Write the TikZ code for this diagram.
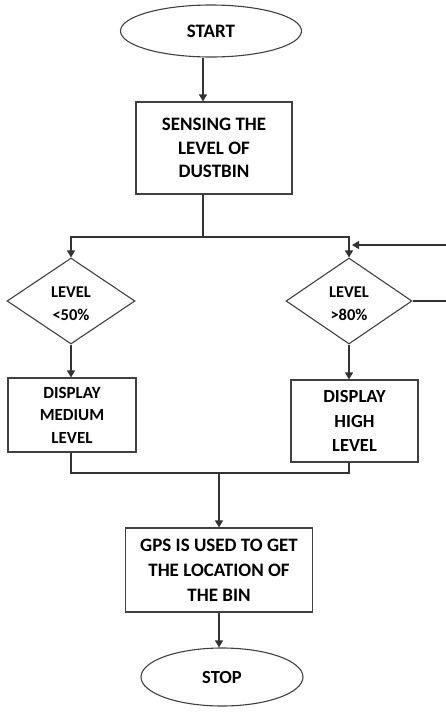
\documentclass[tikz,border=0pt]{standalone}
\usepackage{fontspec}
\setmainfont{Carlito}
\usetikzlibrary{shapes.geometric,arrows.meta}

\tikzset{
  shapeline/.style={draw=black!75, line width=1.1pt},
  procbox/.style={shapeline, rectangle, inner sep=0pt, align=center},
  termnode/.style={shapeline, ellipse, inner sep=0pt},
  decision/.style={shapeline, diamond, inner sep=0pt, align=center,
    font=\fontsize{16.5}{23}\selectfont\bfseries},
  link/.style={draw=black!80, line width=1.1pt},
  arr/.style={link, -{Triangle[length=7pt,width=8pt]}},
  bigtxt/.style={font=\fontsize{19}{23.5}\selectfont\bfseries}
}
% two-line text set a little below the middle of a decision
\newcommand{\lowtext}[2]{\raisebox{-8pt}[0pt][0pt]{\begin{tabular}{@{}c@{}}#1\\#2\end{tabular}}}

\begin{document}
\begin{tikzpicture}[x=1pt,y=-1pt]
\useasboundingbox (0,0) rectangle (446,713);

% terminals, process boxes and decisions
\node[termnode, minimum width=181, minimum height=52, bigtxt] (start) at (211,31) {START};
\node[procbox, minimum width=156, minimum height=92, bigtxt] (sensing) at (214,148)
  {SENSING THE\\LEVEL OF\\DUSTBIN};
\node[decision, minimum width=128, minimum height=86] (lvl1) at (71,301) {\lowtext{LEVEL}{<50\%}};
\node[decision, minimum width=126, minimum height=86] (lvl2) at (349,301) {\lowtext{LEVEL}{>80\%}};
\node[procbox, minimum width=128, minimum height=74,
  font=\fontsize{17}{22.5}\selectfont\bfseries] (disp1) at (72,415) {DISPLAY\\MEDIUM\\LEVEL};
\node[procbox, minimum width=127, minimum height=82,
  font=\fontsize{18.5}{24.5}\selectfont\bfseries] (disp2) at (354.5,421) {DISPLAY\\HIGH\\LEVEL};
\node[procbox, minimum width=187, minimum height=84,
  font=\fontsize{19}{25}\selectfont\bfseries] (gps) at (219,570)
  {GPS IS USED TO GET\\THE LOCATION OF\\THE BIN};
\node[termnode, minimum width=162, minimum height=58,
  font=\fontsize{18.5}{22}\selectfont\bfseries] (stop) at (222,677) {STOP};

% helper points for the routed lines
\coordinate (xa) at (203,0);
\coordinate (split) at (203,237);
\coordinate (join) at (219,473);
\coordinate (loopin) at (446,245);
\coordinate (loopout) at (446,297);

% connectors
\draw[arr] (start.south -| xa) -- (sensing.north -| xa);
\draw[link] (sensing.south -| split) -- (split);
\draw[arr] (split) -| (lvl1.north);
\draw[arr] (split) -| (lvl2.north);
\draw[arr] (loopin) -- ([xshift=3pt]loopin -| lvl2.north);
\draw[link] (lvl2.east) -- (lvl2.east -| loopout);
\draw[arr] (lvl1.south) -- (lvl1.south |- disp1.north);
\draw[arr] (lvl2.south) -- (lvl2.south |- disp2.north);
\draw[link] (disp1.south -| lvl1.south) |- (join) -| (disp2.south -| lvl2.south);
\draw[arr] (join) -- (gps.north);
\draw[arr] (gps.south) -- (gps.south |- stop.north);
\end{tikzpicture}
\end{document}
